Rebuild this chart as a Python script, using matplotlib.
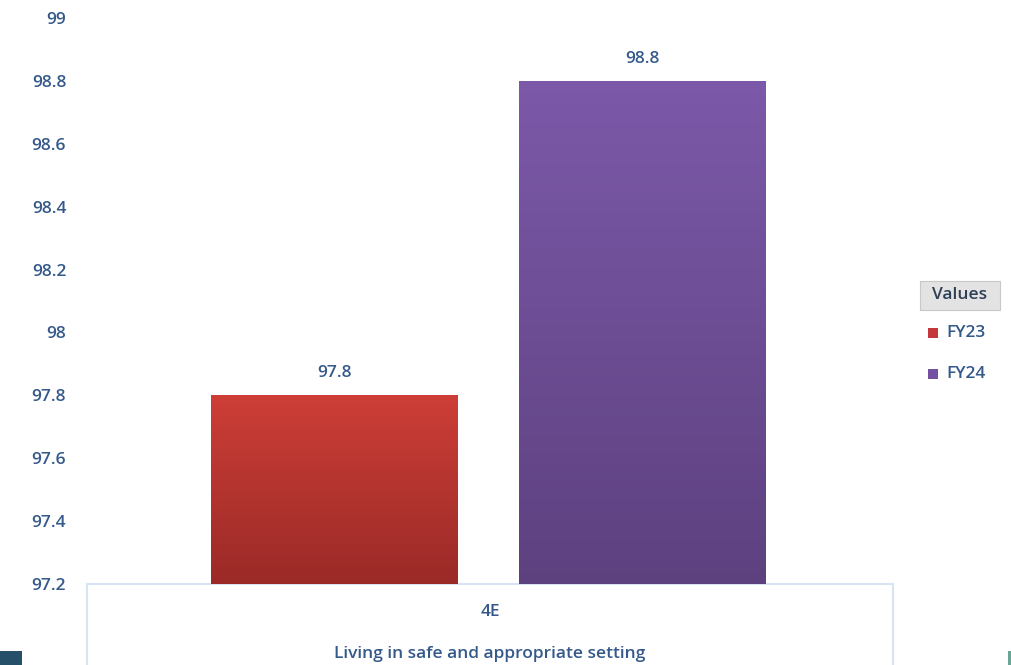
import numpy as np
import matplotlib.pyplot as plt
from matplotlib.patches import Rectangle
from matplotlib.colors import LinearSegmentedColormap

plt.rcParams['font.family'] = ['Open Sans', 'DejaVu Sans']
plt.rcParams['font.weight'] = 600

# data
series = ["FY23", "FY24"]
values = [97.8, 98.8]
category = "4E"
category_desc = "Living in safe and appropriate setting"
yticks = [97.2, 97.4, 97.6, 97.8, 98.0, 98.2, 98.4, 98.6, 98.8, 99.0]
ytick_labels = ["97.2", "97.4", "97.6", "97.8", "98", "98.2", "98.4", "98.6", "98.8", "99"]

# top / bottom colours of each bar's gradient
grad_colors = [("#cd3e37", "#9b2a27"), ("#7c59a9", "#5d417f")]
legend_colors = ["#c4373a", "#7350a0"]
text_color = "#34598a"
fs = 12.5

fig = plt.figure(figsize=(10.12, 6.65), dpi=100)
ax = fig.add_axes([0.086, 0.1218, 0.7964, 0.8512])

x = np.arange(len(values))
bars = ax.bar(x, values, width=0.8, color="none", bottom=0)
ax.set_ylim(97.2, 99.0)
ax.set_xlim(-0.804, 1.813)

# fill each bar with a vertical gradient
for bar, (top, bottom) in zip(bars, grad_colors):
    cmap = LinearSegmentedColormap.from_list("g", [bottom, top])
    x0 = bar.get_x()
    x1 = x0 + bar.get_width()
    grad = np.linspace(0, 1, 256).reshape(-1, 1)
    im = ax.imshow(grad, cmap=cmap, origin="lower", aspect="auto",
                   extent=[x0, x1, 97.2, bar.get_height()], zorder=2)
    im.set_clip_path(bar)

for xi, v in zip(x, values):
    ax.annotate(f"{v:g}", (xi, v), xytext=(0, 10), textcoords="offset points",
                ha="center", va="bottom", fontsize=fs, color=text_color)

ax.set_yticks(yticks)
ax.set_yticklabels(ytick_labels)
ax.tick_params(axis="y", length=0, pad=15, labelsize=fs, labelcolor=text_color)
ax.set_xticks([])
for s in ax.spines.values():
    s.set_visible(False)

# category box under the plot area
ax.add_patch(Rectangle((0, -0.2), 1, 0.2, transform=ax.transAxes, clip_on=False,
                       facecolor="white", edgecolor="#d6e4f5", lw=1.5, zorder=1))
ax.text(0.5, -0.05, category, transform=ax.transAxes, ha="center", va="center",
        fontsize=fs, color=text_color)
ax.text(0.5, -0.123, category_desc, transform=ax.transAxes, ha="center", va="center",
        fontsize=fs, color=text_color)

# legend
fig.patches.append(Rectangle((920 / 1012, 1 - 310 / 665), 80 / 1012, 29 / 665,
                             transform=fig.transFigure, facecolor="#e3e3e3",
                             edgecolor="#c8c8c8", lw=0.8))
fig.text(960 / 1012, 1 - 295 / 665, "Values", ha="center", va="center",
         fontsize=fs, color="#2f3f55")
for i, (name, c) in enumerate(zip(series, legend_colors)):
    yc = 1 - (333 + 41 * i) / 665
    fig.patches.append(Rectangle((928 / 1012, yc - 5 / 665), 10 / 1012, 10 / 665,
                                 transform=fig.transFigure, facecolor=c, edgecolor="none"))
    fig.text(946 / 1012, yc, name, ha="left", va="center", fontsize=fs, color=text_color)

# small edge blocks at the bottom corners
fig.patches.append(Rectangle((0, 0), 22 / 1012, 14 / 665, transform=fig.transFigure,
                             facecolor="#26506a", edgecolor="none"))
fig.patches.append(Rectangle((1008 / 1012, 0), 4 / 1012, 14 / 665, transform=fig.transFigure,
                             facecolor="#6aa695", edgecolor="none"))

fig.savefig("out.png", dpi=100)
